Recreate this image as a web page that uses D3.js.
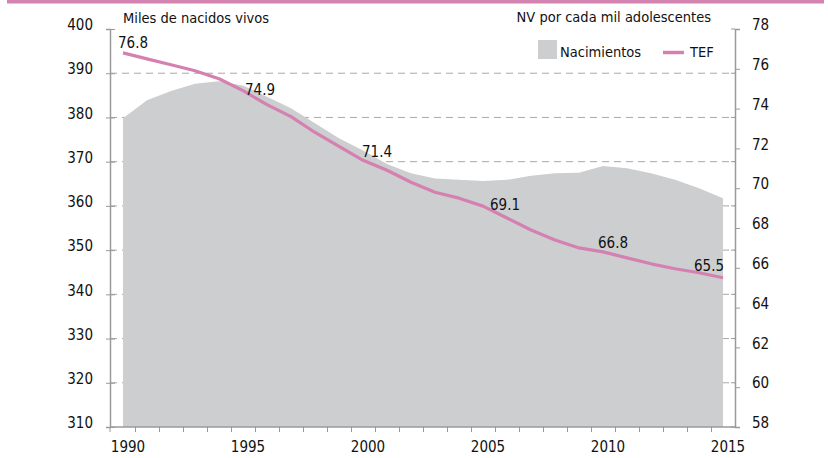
<!DOCTYPE html>
<html>
<head>
<meta charset="utf-8">
<script src="https://cdn.jsdelivr.net/npm/d3@7"></script>
<style>
  html, body { margin: 0; padding: 0; background: #fff; }
  svg text { font-family: "DejaVu Sans Condensed", "Liberation Sans Narrow", sans-serif; fill: #111; }
</style>
</head>
<body>
<svg id="chart" width="828" height="458"></svg>
<script>
// Years shown on the category axis
const years = [1990, 1991, 1992, 1993, 1994, 1995, 1996, 1997, 1998, 1999, 2000, 2001, 2002,
               2003, 2004, 2005, 2006, 2007, 2008, 2009, 2010, 2011, 2012, 2013, 2014, 2015];

// Births, thousands of live births (left axis)
const nacimientos = [379.8, 383.9, 386.0, 387.6, 388.2, 387.2, 384.7, 382.1, 378.7, 375.3, 372.5, 369.5, 367.4,
                     366.2, 365.9, 365.6, 365.9, 366.8, 367.4, 367.5, 369.0, 368.5, 367.4, 365.9, 364.0, 361.7];

// Adolescent fertility rate, births per 1000 adolescents (right axis)
const tef = [76.8, 76.5, 76.2, 75.9, 75.5, 74.9, 74.2, 73.6, 72.8, 72.1, 71.4, 70.9, 70.3,
             69.8, 69.5, 69.1, 68.5, 67.9, 67.4, 67.0, 66.8, 66.5, 66.2, 65.95, 65.75, 65.5];

// Years whose rate is written on the line
const labelYears = [1990, 1995, 2000, 2005, 2010, 2015];
// Where each value label sits relative to its point (dx of the text centre, dy of the baseline)
const labelOffsets = [[10, -5], [17, 4], [14, -3], [22, 4], [10, -4], [-14, -7]];

const leftTicks = [310, 320, 330, 340, 350, 360, 370, 380, 390, 400];
const rightTicks = [58, 60, 62, 64, 66, 68, 70, 72, 74, 76, 78];
const xLabelYears = [1990, 1995, 2000, 2005, 2010, 2015];

const svg = d3.select("#chart");
const pink = "#d481b1";
const grey = "#cdced0";
const axisColor = "#9a9a9a";
const fs = 15;

const plotLeft = 110, plotRight = 735, plotTop = 29, plotBottom = 427;

const x = d3.scaleLinear().domain([1990, 2015]).range([123, 723]);
const yL = d3.scaleLinear().domain([310, 400]).range([plotBottom, plotTop]);
const yR = d3.scaleLinear().domain([58, 78]).range([plotBottom, plotTop]);

// Top band
svg.append("rect").attr("x", 7).attr("y", 0).attr("width", 817).attr("height", 3.5).attr("fill", "#d283b0");

// Dashed grid lines
svg.append("g").selectAll("line").data(leftTicks.filter(t => t > 310 && t < 400)).join("line")
  .attr("x1", plotLeft).attr("x2", plotRight)
  .attr("y1", d => yL(d)).attr("y2", d => yL(d))
  .attr("stroke", "#a8a8a8").attr("stroke-width", 1).attr("stroke-dasharray", "7,5");

const rows = years.map((y, i) => ({ year: y, n: nacimientos[i], t: tef[i] }));

// Births area
svg.append("path").datum(rows)
  .attr("fill", grey)
  .attr("d", d3.area().x(d => x(d.year)).y0(yL(310)).y1(d => yL(d.n)));

// Rate line
svg.append("path").datum(rows)
  .attr("fill", "none").attr("stroke", pink).attr("stroke-width", 3.2).attr("stroke-linejoin", "round")
  .attr("d", d3.line().x(d => x(d.year)).y(d => yR(d.t)));

// Left axis
const gL = svg.append("g").attr("transform", `translate(${plotLeft},0)`)
  .call(d3.axisLeft(yL).tickValues(leftTicks).tickSize(4).tickPadding(13).tickFormat(d3.format("d")));
gL.select(".domain").attr("stroke", axisColor).attr("stroke-width", 1.5);
gL.selectAll(".tick line").attr("stroke", axisColor).attr("x1", 5).attr("x2", -4);
gL.selectAll(".tick text").attr("font-size", fs).attr("dy", "0.05em").attr("font-family", null);

// Right axis
const gR = svg.append("g").attr("transform", `translate(${plotRight},0)`)
  .call(d3.axisRight(yR).tickValues(rightTicks).tickSize(5).tickPadding(12).tickFormat(d3.format("d")));
gR.select(".domain").attr("stroke", axisColor).attr("stroke-width", 1.5);
gR.selectAll(".tick line").attr("stroke", axisColor);
gR.selectAll(".tick text").attr("font-size", fs).attr("dy", "0.05em").attr("font-family", null);
// inner ticks at the left-axis values
svg.append("g").selectAll("line").data(leftTicks).join("line")
  .attr("x1", plotRight - 4).attr("x2", plotRight)
  .attr("y1", d => yL(d)).attr("y2", d => yL(d))
  .attr("stroke", axisColor);

// Bottom axis: ticks at year boundaries, labels under the years
const boundaries = years.slice(0, -1).map(y => y + 0.5);
const gB = svg.append("g").attr("transform", `translate(0,${plotBottom})`)
  .call(d3.axisBottom(x).tickValues(boundaries).tickSize(5).tickFormat(""));
gB.select(".domain").remove();
gB.selectAll(".tick line").attr("stroke", axisColor);
gB.append("line").attr("x1", plotLeft).attr("x2", plotRight).attr("stroke", axisColor).attr("stroke-width", 1.5);
gB.append("line").attr("x1", plotLeft).attr("x2", plotLeft).attr("y2", 5).attr("stroke", axisColor);
svg.append("g").selectAll("text").data(xLabelYears).join("text")
  .attr("x", d => x(d) + 5).attr("y", 452)
  .attr("text-anchor", "middle").attr("font-size", fs)
  .text(d => d);

// Axis titles
svg.append("text").attr("x", 123).attr("y", 23).attr("font-size", 14.5).text("Miles de nacidos vivos");
svg.append("text").attr("x", 711).attr("y", 22).attr("font-size", 14.5).attr("text-anchor", "end").text("NV por cada mil adolescentes");

// Legend
svg.append("rect").attr("x", 538).attr("y", 40).attr("width", 19).attr("height", 19).attr("fill", grey);
svg.append("text").attr("x", 560).attr("y", 57).attr("font-size", 14.5).text("Nacimientos");
svg.append("line").attr("x1", 663).attr("x2", 684).attr("y1", 52.5).attr("y2", 52.5)
  .attr("stroke", pink).attr("stroke-width", 3.5);
svg.append("text").attr("x", 690).attr("y", 57).attr("font-size", 14.5).text("TEF");

// Value labels on the rate line
svg.append("g").selectAll("text").data(labelYears).join("text")
  .attr("x", (d, i) => x(d) + labelOffsets[i][0])
  .attr("y", (d, i) => yR(tef[years.indexOf(d)]) + labelOffsets[i][1])
  .attr("text-anchor", "middle").attr("font-size", fs)
  .text(d => d3.format(".1f")(tef[years.indexOf(d)]));
</script>
</body>
</html>
